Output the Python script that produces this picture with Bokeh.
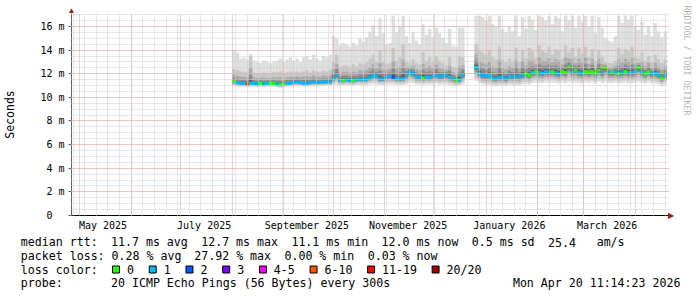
import math
import re
import pandas as pd
from bokeh.plotting import figure
from bokeh.models import (ColumnDataSource, FixedTicker, Range1d, LinearAxis, Grid)
from bokeh.layouts import column
from bokeh.embed import file_html
from bokeh.resources import INLINE
from bokeh.core.properties import value

nan = float("nan")

# ---------------- data ----------------
first_day = "2025-08-01"          # first 2-day column
step_days = 2
# median rtt (ms) per 2-day column
median_ms = [
    11.35, 11.25, 11.2, 11.2, 11.15, 11.2, 11.2, 11.15, 11.2, 11.15,
    11.2, 11.2, 11.2, 11.15, 11.1, 11.15, 11.2, 11.2, 11.25, 11.3,
    11.25, 11.2, 11.2, 11.25, 11.3, 11.25, 11.3, 11.3, 11.3, 11.3,
    11.6, 11.9, 11.45, 11.45, 11.5, 11.45, 11.4, 11.5, 11.55, 11.5,
    11.55, 11.7, 11.85, 11.8, 11.55, 11.55, 11.75, 11.8, 11.7, 11.6,
    11.55, 11.6, 11.9, 12.2, 12.0, 11.75, 11.7, 11.65, 11.75, 11.7,
    11.8, 11.9, 11.75, 11.8, 11.9, 11.75, 11.6, 11.45, 11.5, 11.9,
    nan, nan, nan, 12.55, 12.0, 11.85, 11.8, 11.85, 11.65, 11.6,
    11.7, 11.7, 11.6, 11.8, 11.75, 11.8, 11.75, 11.9, 12.0, 11.85,
    12.1, 12.2, 12.1, 12.05, 12.2, 12.1, 12.2, 12.1, 12.0, 12.2,
    12.1, 12.6, 12.15, 12.3, 12.1, 12.05, 12.2, 12.1, 12.2, 12.05,
    12.3, 12.1, 12.5, 12.1, 12.1, 12.2, 12.0, 12.1, 12.2, 12.1,
    12.1, 12.2, 12.5, 12.1, 12.0, 12.2, 12.0, 12.05, 11.9, 11.65,
    11.9,
]
# lost pings (of 20) per column
loss_pings = [
    0, 1, 1, 1, 7, 1, 1, 1, 0, 1,
    1, 0, 0, 1, 0, 0, 1, 1, 1, 1,
    1, 1, 1, 1, 1, 1, 1, 1, 1, 1,
    1, 1, 1, 0, 1, 1, 0, 1, 1, 1,
    1, 1, 1, 1, 1, 1, 1, 1, 2, 1,
    1, 1, 1, 1, 1, 1, 1, 0, 1, 1,
    1, 1, 1, 1, 1, 1, 1, 0, 1, 1,
    1, 1, 1, 1, 1, 1, 1, 1, 1, 1,
    1, 1, 1, 1, 1, 1, 1, 1, 0, 0,
    1, 0, 1, 1, 1, 1, 0, 1, 1, 0,
    0, 0, 1, 0, 1, 1, 0, 0, 0, 0,
    0, 1, 0, 1, 0, 1, 0, 1, 0, 1,
    1, 1, 0, 1, 0, 0, 1, 1, 1, 0,
    1,
]
# highest ping (ms)
ping_max = [
    14.0, 13.8, 13.3, 13.4, 13.2, 13.7, 13.1, 13.0, 12.9, 13.1,
    13.0, 12.9, 13.0, 13.1, 13.3, 13.0, 13.2, 13.4, 13.1, 13.3,
    13.0, 13.4, 13.5, 13.2, 13.6, 13.3, 13.1, 13.5, 13.4, 13.6,
    15.2, 15.0, 14.4, 14.6, 14.5, 14.3, 14.6, 14.4, 15.0, 14.7,
    15.1, 15.6, 16.1, 15.2, 16.7, 15.4, 14.5, 14.6, 16.9, 15.5,
    16.0, 16.9, 15.2, 14.6, 15.5, 14.8, 14.5, 16.2, 15.3, 15.8,
    15.1, 15.9, 15.4, 15.0, 14.6, 15.8, 14.4, 14.3, 15.9, 15.9,
    nan, nan, nan, 16.9, 16.9, 16.8, 16.5, 16.9, 16.2, 16.0,
    16.9, 15.8, 15.5, 16.0, 15.6, 16.9, 15.2, 16.8, 15.8, 16.9,
    16.6, 15.7, 16.9, 16.8, 16.5, 16.9, 16.2, 16.9, 16.7, 15.6,
    16.9, 16.5, 16.9, 15.9, 16.9, 16.4, 16.9, 16.0, 16.9, 15.4,
    16.8, 15.9, 15.0, 14.8, 14.7, 15.2, 16.9, 16.3, 16.9, 16.6,
    16.9, 16.0, 15.7, 16.4, 15.3, 16.0, 15.2, 16.3, 15.6, 15.1,
    15.6,
]
# upper edge of the denser smoke (ms)
ping_upper = [
    12.4, 12.3, 12.2, 12.2, 12.1, 13.5, 12.1, 12.0, 12.0, 12.1,
    12.0, 12.0, 12.1, 12.1, 12.2, 12.0, 12.1, 12.2, 12.1, 12.2,
    12.1, 12.2, 12.3, 12.1, 12.3, 12.2, 12.1, 12.3, 12.2, 12.3,
    13.0, 13.6, 12.6, 12.7, 12.7, 12.6, 12.8, 12.6, 12.9, 12.8,
    13.0, 13.3, 13.6, 13.0, 14.0, 13.0, 12.8, 12.9, 14.2, 13.1,
    13.4, 14.5, 13.0, 12.9, 13.2, 12.9, 12.8, 13.8, 13.1, 13.4,
    13.0, 13.5, 13.1, 12.9, 12.7, 13.4, 12.6, 12.5, 13.5, 13.4,
    nan, nan, nan, 14.5, 14.0, 13.8, 13.6, 14.0, 13.4, 13.2,
    14.3, 13.2, 13.0, 13.3, 13.1, 14.2, 13.0, 14.0, 13.3, 14.2,
    13.9, 13.3, 14.4, 14.0, 13.8, 14.3, 13.6, 14.1, 14.0, 13.3,
    14.4, 13.8, 14.2, 13.4, 14.2, 13.7, 14.3, 13.4, 14.1, 13.1,
    14.0, 13.4, 13.0, 12.9, 12.9, 13.1, 14.2, 13.7, 14.1, 13.9,
    14.3, 13.4, 13.3, 13.8, 13.1, 13.5, 13.0, 13.6, 13.2, 12.9,
    13.2,
]
# lowest ping (ms)
ping_min = [
    10.95, 10.9, 10.9, 10.9, 10.85, 10.9, 10.9, 10.85, 10.9, 10.85,
    10.9, 10.9, 10.9, 10.85, 10.8, 10.85, 10.9, 10.9, 10.95, 10.95,
    10.95, 10.9, 10.9, 10.95, 10.95, 10.95, 10.95, 10.95, 11.0, 11.0,
    11.05, 11.1, 11.0, 11.0, 11.05, 11.0, 11.0, 11.05, 11.05, 11.05,
    11.05, 11.1, 11.15, 11.1, 11.05, 11.05, 11.1, 11.1, 11.1, 11.05,
    11.05, 11.05, 11.1, 11.2, 11.2, 11.1, 11.1, 11.05, 11.1, 11.1,
    11.1, 11.15, 11.1, 11.1, 11.1, 11.05, 11.0, 10.95, 11.0, 11.1,
    nan, nan, nan, 11.4, 11.2, 11.1, 11.05, 11.05, 11.0, 10.95,
    11.0, 11.0, 10.95, 11.05, 11.05, 11.05, 11.0, 11.1, 11.15, 11.1,
    11.2, 11.25, 11.2, 11.2, 11.25, 11.2, 11.25, 11.2, 11.15, 11.25,
    11.2, 11.3, 11.2, 11.25, 11.2, 11.15, 11.25, 11.2, 11.25, 11.15,
    11.3, 11.2, 11.3, 11.2, 11.2, 11.25, 11.15, 11.2, 11.25, 11.2,
    11.2, 11.25, 11.3, 11.2, 11.15, 11.25, 11.15, 11.15, 11.1, 10.95,
    11.1,
]

x_tick_dates = ["2025-05-15", "2025-07-15", "2025-09-15", "2025-11-15", "2026-01-15", "2026-03-15"]
x_tick_labels = ["May 2025", "July 2025", "September 2025", "November 2025", "January 2026", "March 2026"]
y_tick_values = [0, 2, 4, 6, 8, 10, 12, 14, 16]
y_tick_labels = ["0\u00a0\u00a0", "2 m", "4 m", "6 m", "8 m", "10 m", "12 m", "14 m", "16 m"]

loss_labels = ["0", "1", "2", "3", "4-5", "6-10", "11-19", "20/20"]
loss_upper = [0, 1, 2, 3, 5, 10, 19, 20]
loss_colors = ["#26ff00", "#00b8ff", "#0059ff", "#7e00ff", "#ff00ff", "#ff5500", "#ff0000", "#a10000"]

legend_rows = [
    "median rtt:  11.7 ms avg  12.7 ms max  11.1 ms min  12.0 ms now  0.5 ms sd  25.4   am/s",
    "packet loss: 0.28 % avg  27.92 % max  0.00 % min  0.03 % now",
    "loss color:",
    "probe:       20 ICMP Echo Pings (56 Bytes) every 300s",
]
stamp = "Mon Apr 20 11:14:23 2026"
watermark = "RRDTOOL / TOBI OETIKER"

# ---------------- layout constants ----------------
W = 697
TOP_H, LEG_H = 234, 63
FRAME_L, FRAME_R, FRAME_T, FRAME_B = 67, 668, 13, 215
MONO = "DejaVu Sans Mono"
LEG_FONT = "11.6px"
CHAR_W = 6.984
TEXT_X = 16
ROW_Y = [241.7 - TOP_H, 255.0 - TOP_H, 269.0 - TOP_H, 282.3 - TOP_H]

origin = pd.Timestamp("2025-04-26")
view_end = pd.Timestamp("2026-04-21")
DAY = pd.Timedelta(days=1)


def day_no(ts):
    return (pd.Timestamp(ts) - origin) / DAY


n = len(median_ms)
lefts = [day_no(pd.Timestamp(first_day) + i * step_days * DAY) for i in range(n)]
rights = [l + step_days for l in lefts]
mids = [l + step_days / 2 for l in lefts]

p = figure(width=W, height=TOP_H, x_range=Range1d(0, day_no(view_end)), y_range=Range1d(0, 17.1),
           output_backend="svg", toolbar_location=None, x_axis_type=None, y_axis_type=None,
           min_border_left=FRAME_L, min_border_right=W - FRAME_R, min_border_top=FRAME_T,
           min_border_bottom=TOP_H - FRAME_B,
           outline_line_color=None, background_fill_color="white", border_fill_color="white")

# smoke layers: lightest outer band, darker towards the median
grays = ["#dedede", "#c6c6c6", "#aaaaaa", "#8a8a8a", "#5e5e5e"]
up_frac = [None, None, 0.55, 0.3, 0.12]
lo_frac = [1.0, 0.75, 0.5, 0.3, 0.15]
for li, g in enumerate(grays):
    tops, bots = [], []
    for m, mx, up, mn in zip(median_ms, ping_max, ping_upper, ping_min):
        if li == 0:
            t = mx
        elif li == 1:
            t = up
        else:
            t = m + (up - m) * up_frac[li]
        b = m - (m - mn) * lo_frac[li]
        tops.append(t)
        bots.append(b)
    src = ColumnDataSource(dict(left=lefts, right=rights, top=tops, bottom=bots))
    p.quad(left="left", right="right", top="top", bottom="bottom", source=src,
           fill_color=g, line_color=None)


def bucket(lost):
    for i, u in enumerate(loss_upper):
        if lost <= u:
            return i
    return len(loss_upper) - 1


med_colors = [loss_colors[bucket(l)] for l in loss_pings]
msrc = ColumnDataSource(dict(x=mids, y=median_ms, c=med_colors))
p.rect(x="x", y="y", width=step_days, height=3, height_units="screen", source=msrc,
       fill_color="c", line_color=None)

# grids
month_starts = [int(day_no(d)) for d in pd.date_range("2025-05-01", "2026-04-01", freq="MS")]
sundays = [int(day_no(d)) for d in pd.date_range("2025-04-27", "2026-04-20", freq="W-SUN")]
p.add_layout(Grid(dimension=0, ticker=FixedTicker(ticks=month_starts, minor_ticks=sundays),
                  grid_line_color="#eaa0a0", grid_line_dash="1 1", grid_line_width=1,
                  minor_grid_line_color="#cfcfcf", minor_grid_line_dash="1 1", level="overlay"))
p.add_layout(Grid(dimension=1, ticker=FixedTicker(ticks=y_tick_values,
                                                  minor_ticks=[v / 2 for v in range(0, 35)]),
                  grid_line_color="#eaa0a0", grid_line_dash="1 1", grid_line_width=1,
                  minor_grid_line_color="#cfcfcf", minor_grid_line_dash="1 1", level="overlay"))

# axes
x_ticks = [int(day_no(d)) for d in x_tick_dates]
xaxis = LinearAxis(ticker=FixedTicker(ticks=x_ticks),
                   major_label_overrides={t: l for t, l in zip(x_ticks, x_tick_labels)},
                   axis_line_color="black", axis_line_width=1,
                   major_tick_line_color=None, minor_tick_line_color=None,
                   major_tick_out=0, major_tick_in=0, major_label_standoff=4,
                   major_label_text_font=MONO, major_label_text_font_size="10px",
                   major_label_text_color="black")
p.add_layout(xaxis, "below")
yaxis = LinearAxis(ticker=FixedTicker(ticks=y_tick_values),
                   major_label_overrides={t: l for t, l in zip(y_tick_values, y_tick_labels)},
                   axis_line_color="#606060", major_tick_line_color="#606060",
                   minor_tick_line_color=None, major_tick_out=3, major_tick_in=0,
                   major_label_standoff=4,
                   major_label_text_font=MONO, major_label_text_font_size="10px",
                   major_label_text_color="black",
                   axis_label="Seconds", axis_label_text_font=MONO,
                   axis_label_text_font_size="11.5px", axis_label_text_font_style="normal",
                   axis_label_standoff=20, axis_label_text_color="black")
p.add_layout(yaxis, "left")

# axis arrows and watermark (unclipped overlay text glyphs)
arrow_col = "#8b1c1c"
y_top = p.y_range.end
x_right = p.x_range.end
r = p.text(x=[0], y=[y_top], text=["\u25b2"], text_align="center", text_baseline="bottom",
           text_font_size="8px", text_color=arrow_col, y_offset=1)
r.level = "overlay"
r = p.text(x=[x_right], y=[0], text=["\u25b6"], text_align="left", text_baseline="middle",
           text_font_size="8px", text_color=arrow_col, x_offset=-1)
r.level = "overlay"
r = p.text(x=[x_right], y=[y_top], text=[watermark], angle=-math.pi / 2,
           text_align="left", text_baseline="middle", text_font=value(MONO),
           text_font_size="8.3px", text_color="#b4b4b4", x_offset=18, y_offset=-8)
r.level = "overlay"

# ---------------- legend block (pixel coordinates) ----------------
lg = figure(width=W, height=LEG_H, x_range=Range1d(FRAME_L, FRAME_R), y_range=Range1d(LEG_H, 0),
            output_backend="svg", toolbar_location=None, x_axis_type=None, y_axis_type=None,
            min_border_left=FRAME_L, min_border_right=W - FRAME_R, min_border_top=0,
            min_border_bottom=0, outline_line_color=None, background_fill_color="white",
            border_fill_color="white")

tx, ty, tt, ta = [], [], [], []
for ri, row in enumerate(legend_rows):
    for m in re.finditer(r"\S+(?: \S+)*", row):
        tx.append(TEXT_X + m.start() * CHAR_W)
        ty.append(ROW_Y[ri])
        tt.append(m.group(0))
        ta.append("left")
tx.append(680)
ty.append(ROW_Y[3])
tt.append(stamp)
ta.append("right")

bx, box_x, = TEXT_X + 13 * CHAR_W + 1, []
for lab in loss_labels:
    box_x.append(bx + 4)
    tx.append(bx + 15)
    ty.append(ROW_Y[2])
    tt.append(lab)
    ta.append("left")
    bx += 30 + CHAR_W * len(lab)

r = lg.rect(x=box_x, y=[ROW_Y[2]] * len(box_x), width=7, height=7, fill_color=loss_colors,
            line_color="black", line_width=1)
r.level = "overlay"
r = lg.text(x=tx, y=ty, text=tt, text_align=ta, text_font=value(MONO), text_font_size=LEG_FONT,
            text_baseline="middle", text_color="black")
r.level = "overlay"

layout = column(p, lg, spacing=0)
open("out.html", "w").write(file_html(layout, INLINE))
